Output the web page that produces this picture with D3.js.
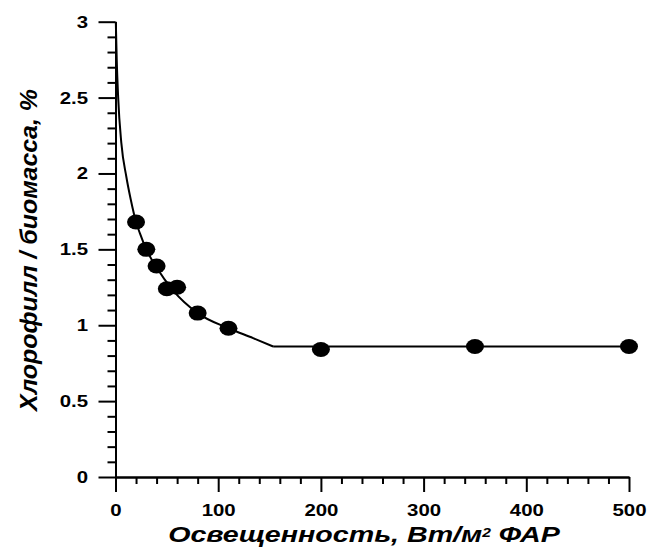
<!DOCTYPE html>
<html><head><meta charset="utf-8">
<script src="https://cdn.jsdelivr.net/npm/d3@7"></script>
<style>
html,body{margin:0;padding:0;background:#fff;}
svg{display:block;}
text{font-family:"Liberation Sans",Arial,sans-serif;}
</style></head>
<body>
<script>
// Measured points
const pointX = [20, 30, 40, 50, 60, 80, 110, 200, 350, 500];
const pointY = [1.68, 1.50, 1.39, 1.24, 1.25, 1.08, 0.98, 0.84, 0.86, 0.86];
// Fitted curve
const curveX = [0.3, 1.2, 2.6, 5.7, 10.5, 14.8, 20, 23.8, 30, 40, 56, 80, 110, 134, 153.5];
const curveY = [3.0, 2.75, 2.5, 2.2, 1.98, 1.83, 1.68, 1.605, 1.50, 1.38, 1.23, 1.08, 0.98, 0.915, 0.86];
// Plateau
const plateauX = [153.5, 500];
const plateauY = [0.86, 0.86];
// Ticks
const xMajor = [0, 100, 200, 300, 400, 500];
const yMajor = [0, 0.5, 1, 1.5, 2, 2.5, 3];
const xTitle = "Освещенность, Вт/м";
const xTitleSup = "2";
const xTitleEnd = " ФАР";
const yTitle = "Хлорофилл / биомасса, %";

const W = 648, H = 548;
const svg = d3.select("body").append("svg").attr("width", W).attr("height", H);

const x = d3.scaleLinear().domain([0, 500]).range([115.5, 629]);
const y = d3.scaleLinear().domain([0, 3]).range([477, 21.7]);

const xMinor = d3.range(0, 501, 20).filter(v => v % 100 !== 0);
const yMinor = d3.range(0, 31).map(v => v / 10).filter(v => Math.abs(v * 2 - Math.round(v * 2)) > 1e-6);

function styleAxis(g) {
  g.selectAll("path.domain").attr("stroke", "#000").attr("stroke-width", 2);
  g.selectAll(".tick line").attr("stroke", "#000").attr("stroke-width", 2);
  g.selectAll("text").attr("font-size", 17).attr("font-weight", "bold").attr("fill", "#000")
    .attr("font-family", '"Liberation Sans", Arial, sans-serif');
}

// x axis
svg.append("g").attr("transform", `translate(0,${y(0)})`)
  .call(d3.axisBottom(x).tickValues(xMinor).tickSize(7).tickSizeOuter(0).tickFormat(""))
  .call(styleAxis);
const gx = svg.append("g").attr("transform", `translate(0,${y(0)})`)
  .call(d3.axisBottom(x).tickValues(xMajor).tickSize(15).tickSizeOuter(0).tickPadding(12).tickFormat(d3.format("d")))
  .call(styleAxis);
gx.selectAll(".tick text").attr("transform", "scale(1.2,1)");

// y axis
svg.append("g").attr("transform", `translate(${x(0)},0)`)
  .call(d3.axisLeft(y).tickValues(yMinor).tickSize(8).tickSizeOuter(0).tickFormat(""))
  .call(styleAxis);
const gy = svg.append("g").attr("transform", `translate(${x(0)},0)`)
  .call(d3.axisLeft(y).tickValues(yMajor).tickSize(17).tickSizeOuter(0).tickPadding(10).tickFormat(d => String(d)))
  .call(styleAxis);
gy.selectAll(".tick text").attr("x", 0).attr("transform", "translate(-27.5,0) scale(1.2,1)");

// curve
const curveData = curveX.map((v, i) => [v, curveY[i]]);
const line = d3.line().x(d => x(d[0])).y(d => y(d[1])).curve(d3.curveMonotoneX);
svg.append("path").datum(curveData).attr("d", line)
  .attr("fill", "none").attr("stroke", "#000").attr("stroke-width", 2);
const plateauData = plateauX.map((v, i) => [v, plateauY[i]]);
svg.append("path").datum(plateauData).attr("d", d3.line().x(d => x(d[0])).y(d => y(d[1])))
  .attr("fill", "none").attr("stroke", "#000").attr("stroke-width", 2);

// points
svg.selectAll("ellipse.pt").data(pointX.map((v, i) => [v, pointY[i]])).enter()
  .append("ellipse").attr("class", "pt")
  .attr("cx", d => x(d[0])).attr("cy", d => y(d[1]))
  .attr("rx", 9).attr("ry", 7.5).attr("fill", "#000");

// titles (stretched horizontally to match the wide lettering of the original)
function stretchTo(sel, targetWidth) {
  const w = sel.node().getComputedTextLength();
  return targetWidth / w;
}
const xtG = svg.append("g").attr("transform", "translate(364,542)");
const xt = xtG.append("text").attr("x", 0).attr("y", 0).attr("text-anchor", "middle")
  .attr("font-size", 22).attr("font-weight", "bold").attr("font-style", "italic").attr("fill", "#000");
xt.append("tspan").text(xTitle);
xt.append("tspan").attr("font-size", 12).attr("dy", -5).text(xTitleSup);
xt.append("tspan").attr("dy", 5).text(xTitleEnd);
const sx = stretchTo(xt, 392);
xt.attr("transform", `scale(${sx},1)`);

const ytG = svg.append("g").attr("transform", "translate(37,250) rotate(-90)");
const yt = ytG.append("text").attr("x", 0).attr("y", 0).attr("text-anchor", "middle")
  .attr("font-size", 23).attr("font-weight", "bold").attr("font-style", "italic").attr("fill", "#000")
  .text(yTitle);
const sy = stretchTo(yt, 322);
yt.attr("transform", `scale(${sy},1)`);
</script>
</body></html>
